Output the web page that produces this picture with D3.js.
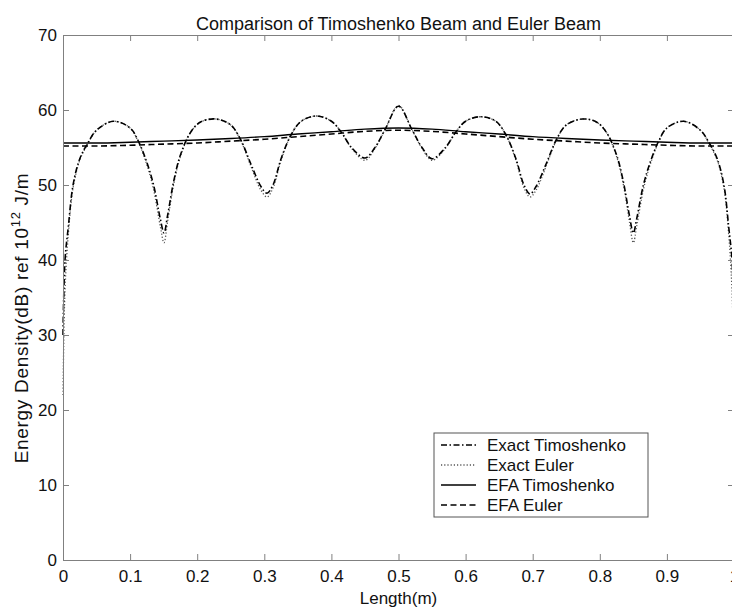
<!DOCTYPE html>
<html>
<head>
<meta charset="utf-8">
<script src="https://cdn.jsdelivr.net/npm/d3@7"></script>
<style>
body { margin: 0; background: #fff; }
text { font-family: "Liberation Sans", Arial, sans-serif; fill: #111; }
</style>
</head>
<body>
<div id="chart"></div>
<script>
// Abscisses communes des courbes exactes
const xs = [0.000, 0.003, 0.008, 0.015, 0.025, 0.037, 0.050, 0.075, 0.100, 0.112, 0.125, 0.135, 0.145, 0.1505, 0.156, 0.165, 0.175, 0.190, 0.205, 0.228,
            0.250, 0.265, 0.280, 0.295, 0.304, 0.313, 0.325, 0.340, 0.355, 0.378, 0.400, 0.415, 0.430, 0.450, 0.465, 0.480, 0.500,
            0.520, 0.535, 0.550, 0.570, 0.585, 0.600, 0.622, 0.645, 0.660, 0.675, 0.687, 0.696, 0.705, 0.720, 0.735, 0.750, 0.774,
            0.795, 0.810, 0.825, 0.835, 0.844, 0.850, 0.855, 0.865, 0.875, 0.888, 0.900, 0.925, 0.950, 0.963, 0.975, 0.985, 0.992, 0.997, 1.000];
const exactTimo = [30.0, 40.0, 44.5, 50.0, 53.5, 55.6, 57.3, 58.5, 57.6, 55.9, 53.0, 50.0, 45.5, 43.6, 46.0, 50.5, 54.0, 57.0, 58.4, 58.8,
                   58.0, 56.0, 52.8, 49.8, 48.9, 50.0, 53.5, 56.7, 58.5, 59.2, 58.5, 57.0, 55.0, 53.6, 55.0, 57.4, 60.5,
                   57.4, 55.0, 53.5, 55.0, 57.0, 58.5, 59.1, 58.5, 56.7, 53.5, 50.0, 48.8, 49.8, 52.8, 56.0, 58.0, 58.8,
                   58.4, 57.0, 54.0, 50.5, 46.0, 43.6, 45.5, 50.0, 53.0, 55.9, 57.6, 58.5, 57.3, 55.6, 53.5, 50.0, 44.5, 40.0, 31.0];
const exactEuler = [22.0, 36.0, 43.5, 49.6, 53.3, 55.5, 57.3, 58.5, 57.6, 55.8, 52.7, 49.4, 44.5, 42.3, 45.2, 50.1, 53.8, 57.0, 58.4, 58.8,
                    58.0, 55.9, 52.5, 49.3, 48.4, 49.6, 53.3, 56.7, 58.5, 59.2, 58.5, 57.0, 54.9, 53.3, 54.9, 57.4, 60.6,
                    57.4, 54.9, 53.3, 54.9, 57.0, 58.5, 59.1, 58.5, 56.7, 53.3, 49.6, 48.4, 49.3, 52.5, 55.9, 58.0, 58.8,
                    58.4, 57.0, 53.8, 50.1, 45.2, 42.3, 44.5, 49.4, 52.7, 55.8, 57.6, 58.5, 57.3, 55.5, 53.3, 49.6, 43.5, 36.0, 24.0];

// Courbes EFA (lissées)
const efaXs    = [0, 0.05, 0.1, 0.15, 0.2, 0.25, 0.3, 0.35, 0.4, 0.45, 0.5, 0.55, 0.6, 0.65, 0.7, 0.75, 0.8, 0.85, 0.9, 0.95, 1];
const efaTimo  = [55.6, 55.6, 55.7, 55.85, 56.0, 56.2, 56.45, 56.8, 57.1, 57.45, 57.6, 57.45, 57.1, 56.8, 56.45, 56.2, 56.0, 55.85, 55.7, 55.6, 55.6];
const efaEuler = [55.2, 55.2, 55.3, 55.45, 55.6, 55.85, 56.1, 56.45, 56.8, 57.15, 57.3, 57.15, 56.8, 56.45, 56.1, 55.85, 55.6, 55.45, 55.3, 55.2, 55.2];

const xTicks = [0, 0.1, 0.2, 0.3, 0.4, 0.5, 0.6, 0.7, 0.8, 0.9, 1];
const xTickLabels = ["0", "0.1", "0.2", "0.3", "0.4", "0.5", "0.6", "0.7", "0.8", "0.9", "1"];
const yTicks = [0, 10, 20, 30, 40, 50, 60, 70];
const legendLabels = ["Exact Timoshenko", "Exact Euler", "EFA Timoshenko", "EFA Euler"];

const W = 732, H = 610;
const gauche = 63, droite = 734, haut = 35, bas = 560;

const svg = d3.select("#chart").append("svg")
    .attr("width", W)
    .attr("height", H);

const x = d3.scaleLinear().domain([0, 1]).range([gauche, droite]);
const y = d3.scaleLinear().domain([0, 70]).range([bas, haut]);

// Styles des 4 séries : tiret-point, pointillé, plein, tirets
const styles = [
    {dash: "6,2.5,1.5,2.5", width: 1.6, color: "#000"},
    {dash: "1.2,2",         width: 1.3, color: "#555"},
    {dash: null,            width: 1.4, color: "#000"},
    {dash: "6,3.5",         width: 1.6, color: "#000"}
];

/* Trace une courbe à partir de deux tableaux */
function tracer(abscisses, valeurs, style, courbe) {
    let points = abscisses.map((v, i) => [v, valeurs[i]]);
    svg.append("path")
        .datum(points)
        .attr("fill", "none")
        .attr("stroke", style.color)
        .attr("stroke-width", style.width)
        .attr("stroke-dasharray", style.dash)
        .attr("d", d3.line().x(d => x(d[0])).y(d => y(d[1])).curve(courbe));
}

tracer(efaXs, efaTimo, styles[2], d3.curveMonotoneX);
tracer(efaXs, efaEuler, styles[3], d3.curveMonotoneX);
tracer(xs, exactEuler, styles[1], d3.curveCatmullRom);
tracer(xs, exactTimo, styles[0], d3.curveCatmullRom);

// Axes (boîte complète, graduations vers l'intérieur)
function styleAxe(g) {
    g.selectAll(".domain").attr("stroke", "#808080");
    g.selectAll(".tick line").attr("stroke", "#808080");
    g.selectAll(".tick text").style("font-size", "17px").attr("fill", "#111");
}

svg.append("g").attr("transform", "translate(0," + bas + ")")
    .call(d3.axisBottom(x).tickValues(xTicks).tickFormat((d, i) => xTickLabels[i]).tickSizeInner(-6).tickSizeOuter(0).tickPadding(10))
    .call(styleAxe);
svg.append("g").attr("transform", "translate(0," + haut + ")")
    .call(d3.axisTop(x).tickValues(xTicks).tickFormat("").tickSizeInner(-6).tickSizeOuter(0))
    .call(styleAxe);
svg.append("g").attr("transform", "translate(" + gauche + ",0)")
    .call(d3.axisLeft(y).tickValues(yTicks).tickSizeInner(-6).tickSizeOuter(0).tickPadding(6))
    .call(styleAxe);
svg.append("g").attr("transform", "translate(" + droite + ",0)")
    .call(d3.axisRight(y).tickValues(yTicks).tickFormat("").tickSizeInner(-6).tickSizeOuter(0))
    .call(styleAxe);

// Titre et libellés
svg.append("text")
    .attr("x", (gauche + droite) / 2).attr("y", 30)
    .attr("text-anchor", "middle")
    .style("font-size", "18px")
    .text("Comparison of Timoshenko Beam and Euler Beam");

svg.append("text")
    .attr("x", (gauche + droite) / 2).attr("y", 604)
    .attr("text-anchor", "middle")
    .style("font-size", "17px")
    .text("Length(m)");

let ylab = svg.append("text")
    .attr("transform", "translate(28,318) rotate(-90)")
    .attr("text-anchor", "middle")
    .style("font-size", "19px")
    .style("letter-spacing", "0.7px");
ylab.append("tspan").text("Energy Density(dB) ref 10");
ylab.append("tspan").attr("dy", -8).style("font-size", "13px").text("12");
ylab.append("tspan").attr("dy", 8).text(" J/m");

// Légende
const leg = svg.append("g");
leg.append("rect")
    .attr("x", 434).attr("y", 433)
    .attr("width", 214).attr("height", 84)
    .attr("fill", "#fff")
    .attr("stroke", "#555");
legendLabels.forEach((lab, i) => {
    let ly = 445 + i * 20;
    leg.append("line")
        .attr("x1", 441).attr("x2", 476)
        .attr("y1", ly).attr("y2", ly)
        .attr("stroke", styles[i].color)
        .attr("stroke-width", styles[i].width)
        .attr("stroke-dasharray", styles[i].dash);
    leg.append("text")
        .attr("x", 487).attr("y", ly + 6)
        .style("font-size", "17px")
        .text(lab);
});
</script>
</body>
</html>
